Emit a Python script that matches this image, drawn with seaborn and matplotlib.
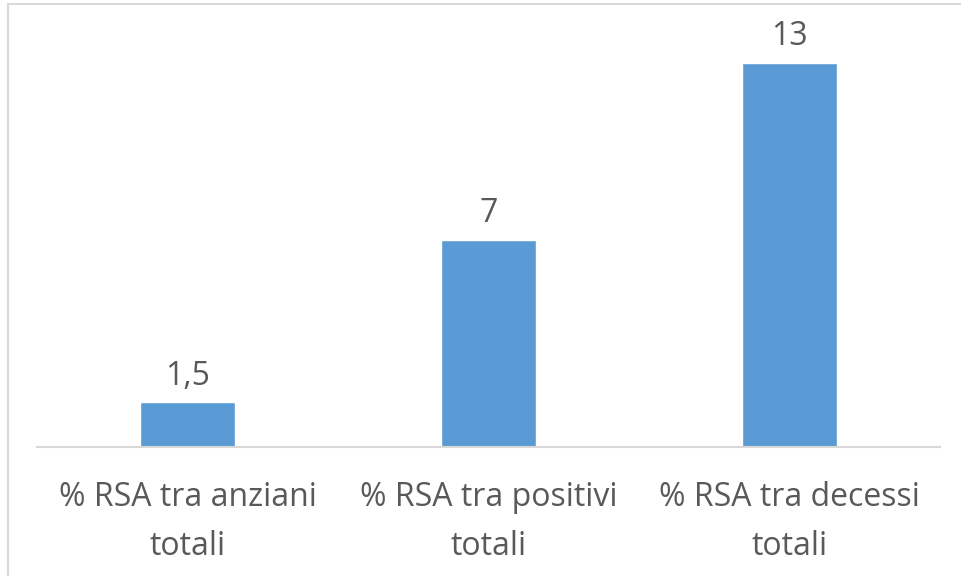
import matplotlib
matplotlib.use("Agg")
import matplotlib.pyplot as plt
import seaborn as sns
import pandas as pd
from matplotlib.patches import Rectangle

# data
categories = ["% RSA tra anziani\ntotali", "% RSA tra positivi\ntotali", "% RSA tra decessi\ntotali"]
values = [1.5, 7, 13]

sns.set_theme(style="white")
plt.rcParams['font.family'] = ['Open Sans', 'DejaVu Sans']

BAR = '#5B9BD5'
TEXT = '#595959'
LINE = '#D9D9D9'

df = pd.DataFrame({'cat': categories, 'val': values})

fig = plt.figure(figsize=(9.61, 5.76), dpi=100)
ax = fig.add_axes([0.0385, 0.2248, 0.9397, 0.717])

sns.barplot(data=df, x='cat', y='val', color=BAR, width=0.316,
            saturation=1, ax=ax)

ax.set_ylim(0, 14)
ax.set_xlim(-0.5, 2.5)
ax.set_xlabel('')
ax.set_ylabel('')
ax.set_yticks([])
for s in ['left', 'right', 'top']:
    ax.spines[s].set_visible(False)
ax.spines['bottom'].set_color(LINE)
ax.spines['bottom'].set_linewidth(1.5)

ax.tick_params(axis='x', length=0, pad=25, labelsize=23, labelcolor=TEXT)
for lbl in ax.get_xticklabels():
    lbl.set_linespacing(1.62)

labels = [f"{v:g}".replace('.', ',') for v in values]
ax.bar_label(ax.containers[0], labels=labels, padding=7, fontsize=23, color=TEXT)

# outer chart border
fig.patches.append(Rectangle((8 / 961, -0.1), 1.2, 1.1 - 4 / 576,
                             transform=fig.transFigure, fill=False,
                             edgecolor=LINE, linewidth=1.5))

fig.savefig('out.png', dpi=100)
